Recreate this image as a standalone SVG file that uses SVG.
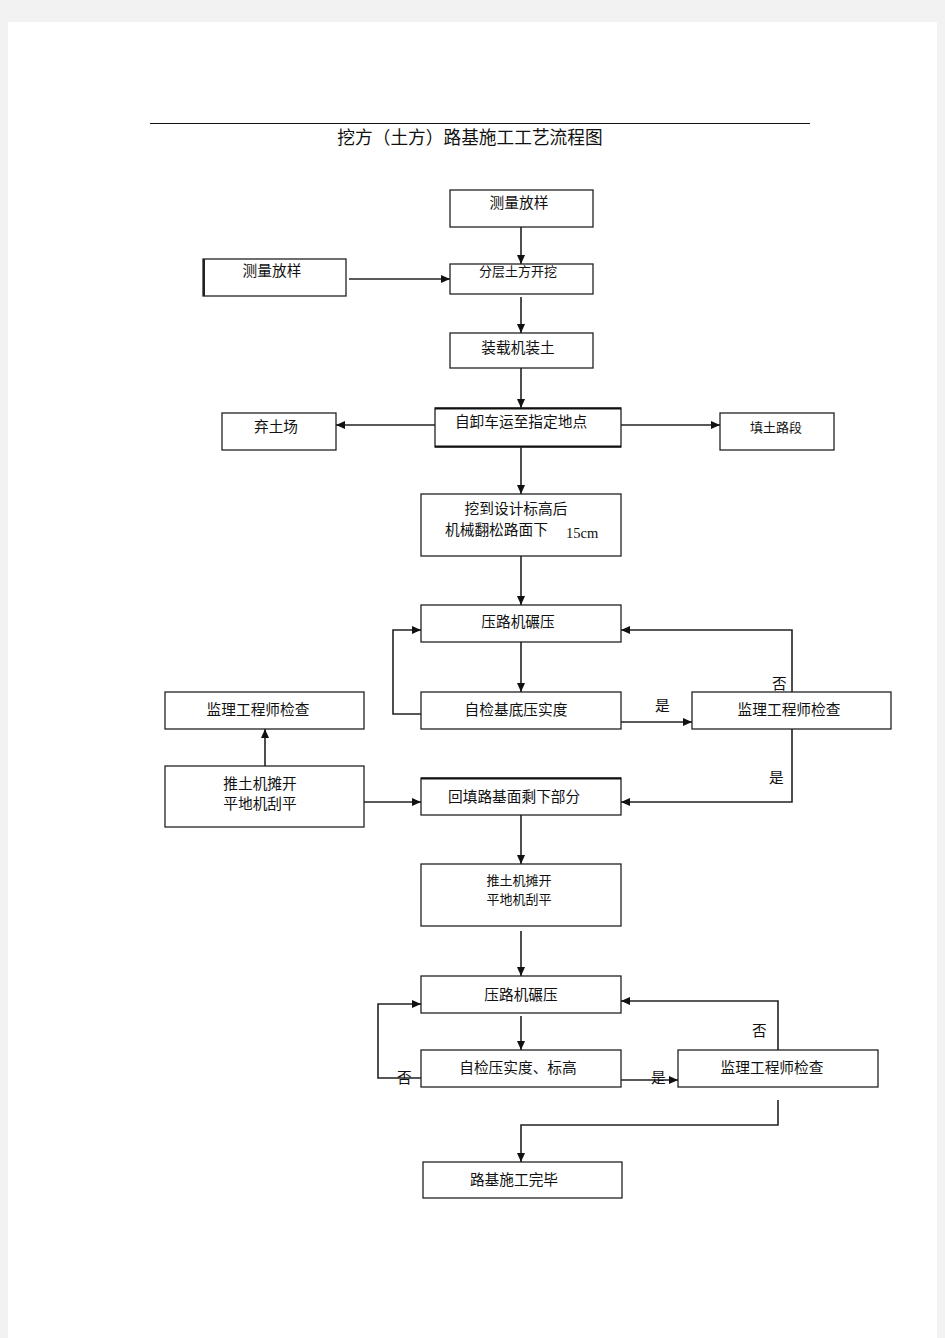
<svg xmlns="http://www.w3.org/2000/svg" width="945" height="1338" viewBox="0 0 945 1338">
<defs>
<marker id="ah" markerWidth="10" markerHeight="10" refX="9" refY="5" orient="auto" markerUnits="userSpaceOnUse">
<path d="M0,1 L9,5 L0,9 Z" fill="#111"/>
</marker>
<style>
.box{fill:#fff;stroke:#222;stroke-width:1.3}
.t{font-family:"Liberation Sans","Noto Sans CJK SC",sans-serif;font-size:14.7px;fill:#111;text-anchor:middle}
.s{font-size:13px}
.l{font-family:"Liberation Sans","Noto Sans CJK SC",sans-serif;font-size:14.7px;fill:#111}
.c{fill:none;stroke:#222;stroke-width:1.6}
</style>
</defs>
<rect x="0" y="0" width="945" height="1338" fill="#f2f2f2"/>
<rect x="8" y="22" width="929" height="1316" fill="#fff"/>
<line x1="150" y1="123.5" x2="810" y2="123.5" stroke="#111" stroke-width="1"/>
<text class="t" x="470" y="144" style="font-size:17.7px">挖方（土方）路基施工工艺流程图</text>

<g id="n1"><rect class="box" x="450" y="190" width="143" height="37"/><text class="t" x="519" y="208">测量放样</text></g>
<g id="n2"><rect class="box" x="450" y="264" width="143" height="30"/><text class="t s" x="518" y="276">分层土方开挖</text></g>
<g id="n3"><rect class="box" x="203" y="259" width="143" height="37"/><line x1="204" y1="259" x2="204" y2="296" stroke="#222" stroke-width="2"/><text class="t" x="272" y="276">测量放样</text></g>
<g id="n4"><rect class="box" x="450" y="333" width="143" height="35"/><text class="t" x="518" y="353">装载机装土</text></g>
<g id="n5"><rect class="box" x="435" y="408" width="186" height="39"/><line x1="435" y1="408.5" x2="621" y2="408.5" stroke="#111" stroke-width="2"/><line x1="435" y1="446.5" x2="621" y2="446.5" stroke="#111" stroke-width="2"/><text class="t" x="521" y="427">自卸车运至指定地点</text></g>
<g id="n6"><rect class="box" x="222" y="413" width="114" height="37"/><text class="t" x="276" y="432">弃土场</text></g>
<g id="n7"><rect class="box" x="720" y="413" width="114" height="37"/><text class="t s" x="776" y="432">填土路段</text></g>
<g id="n8"><rect class="box" x="421" y="494" width="200" height="62"/><text class="t" x="516" y="514">挖到设计标高后</text><text class="l" x="445" y="535">机械翻松路面下</text><text x="566" y="538" style="font-family:'Liberation Serif',serif;font-size:14.5px;fill:#111">15cm</text></g>
<g id="n9"><rect class="box" x="421" y="605" width="200" height="37"/><text class="t" x="518" y="627">压路机碾压</text></g>
<g id="n10"><rect class="box" x="421" y="692" width="200" height="37"/><text class="t" x="516" y="715">自检基底压实度</text></g>
<g id="n11"><rect class="box" x="692" y="692" width="199" height="37"/><text class="t" x="789" y="715">监理工程师检查</text></g>
<g id="n12"><rect class="box" x="165" y="692" width="199" height="37"/><text class="t" x="258" y="715">监理工程师检查</text></g>
<g id="n13"><rect class="box" x="165" y="766" width="199" height="61"/><text class="t" x="260" y="789">推土机摊开</text><text class="t" x="260" y="809">平地机刮平</text></g>
<g id="n14"><rect class="box" x="421" y="778" width="200" height="37"/><line x1="421" y1="778.5" x2="621" y2="778.5" stroke="#111" stroke-width="2"/><text class="l" x="448" y="802">回填路基面剩下部分</text></g>
<g id="n15"><rect class="box" x="421" y="864" width="200" height="62"/><text class="t s" x="519" y="885">推土机摊开</text><text class="t s" x="519" y="904">平地机刮平</text></g>
<g id="n16"><rect class="box" x="421" y="976" width="200" height="37"/><text class="t" x="521" y="1000">压路机碾压</text></g>
<g id="n17"><rect class="box" x="421" y="1050" width="200" height="37"/><text class="t" x="518" y="1073">自检压实度、标高</text></g>
<g id="n18"><rect class="box" x="678" y="1050" width="200" height="37"/><text class="t" x="772" y="1073">监理工程师检查</text></g>
<g id="n19"><rect class="box" x="423" y="1162" width="199" height="36"/><text class="t" x="514" y="1185">路基施工完毕</text></g>

<g id="connectors">
<line class="c" x1="521" y1="227" x2="521" y2="264" marker-end="url(#ah)"/>
<line class="c" x1="349" y1="279" x2="450" y2="279" marker-end="url(#ah)"/>
<line class="c" x1="521" y1="297" x2="521" y2="333" marker-end="url(#ah)"/>
<line class="c" x1="521" y1="368" x2="521" y2="408" marker-end="url(#ah)"/>
<line class="c" x1="435" y1="425" x2="336" y2="425" marker-end="url(#ah)"/>
<line class="c" x1="621" y1="425" x2="720" y2="425" marker-end="url(#ah)"/>
<line class="c" x1="521" y1="447" x2="521" y2="494" marker-end="url(#ah)"/>
<line class="c" x1="521" y1="556" x2="521" y2="605" marker-end="url(#ah)"/>
<line class="c" x1="521" y1="642" x2="521" y2="692" marker-end="url(#ah)"/>
<polyline class="c" points="421,714 393,714 393,630 421,630" marker-end="url(#ah)"/>
<line class="c" x1="621" y1="722" x2="692" y2="722" marker-end="url(#ah)"/>
<polyline class="c" points="792,692 792,630 621,630" marker-end="url(#ah)"/>
<polyline class="c" points="792,729 792,802 621,802" marker-end="url(#ah)"/>
<line class="c" x1="265" y1="766" x2="265" y2="729" marker-end="url(#ah)"/>
<line class="c" x1="364" y1="802" x2="421" y2="802" marker-end="url(#ah)"/>
<line class="c" x1="521" y1="815" x2="521" y2="864" marker-end="url(#ah)"/>
<line class="c" x1="521" y1="931" x2="521" y2="976" marker-end="url(#ah)"/>
<line class="c" x1="521" y1="1016" x2="521" y2="1050" marker-end="url(#ah)"/>
<polyline class="c" points="421,1078 378,1078 378,1004 421,1004" marker-end="url(#ah)"/>
<line class="c" x1="621" y1="1080" x2="678" y2="1080" marker-end="url(#ah)"/>
<polyline class="c" points="778,1050 778,1001 621,1001" marker-end="url(#ah)"/>
<polyline class="c" points="778,1100 778,1125 521,1125 521,1162" marker-end="url(#ah)"/>
<text class="l" x="655" y="711">是</text>
<text class="l" x="772" y="689">否</text>
<text class="l" x="769" y="783">是</text>
<text class="l" x="397" y="1083">否</text>
<text class="l" x="651" y="1083">是</text>
<text class="l" x="752" y="1036">否</text>
</g>
</svg>
